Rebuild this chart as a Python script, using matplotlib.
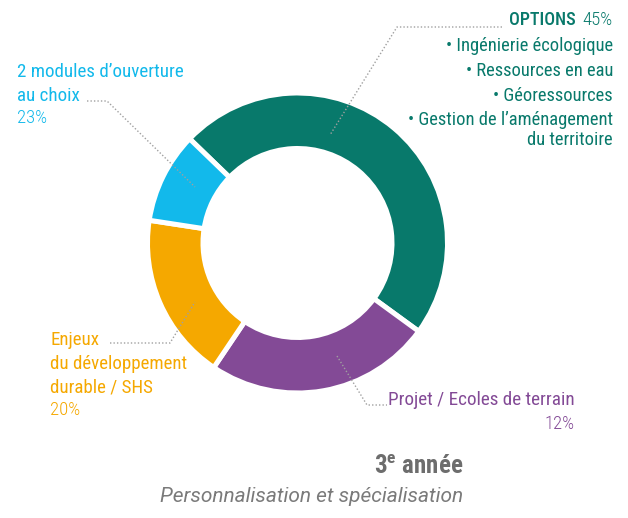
import matplotlib
matplotlib.use("Agg")
import matplotlib.pyplot as plt

# Data
categories = ["OPTIONS", "Projet / Ecoles de terrain",
              "Enjeux du développement durable / SHS", "2 modules d'ouverture au choix"]
slice_values = [47.8, 24.4, 18.0, 9.8]
colors = ["#08796B", "#834A96", "#F5A800", "#12B9EB"]
label_pcts = ["45%", "12%", "20%", "23%"]
options_list = ["• Ingénierie écologique", "• Ressources en eau", "• Géoressources",
                "• Gestion de l\u2019aménagement", "du territoire"]

W, H = 628, 518
fig = plt.figure(figsize=(W / 100, H / 100), dpi=100)
ax = fig.add_axes([0, 0, 1, 1])

cx, cy, R = 297.5, H - 243, 150
ax.pie(slice_values, colors=colors, startangle=136, counterclock=False,
       center=(cx, cy), radius=R, frame=True,
       wedgeprops=dict(width=R * 0.37, edgecolor="white", linewidth=3.6))
ax.set_xlim(0, W)
ax.set_ylim(0, H)
ax.set_aspect("equal")
ax.axis("off")

fams = ["Roboto Condensed", "DejaVu Sans Condensed", "Liberation Sans Narrow", "DejaVu Sans"]
dot = dict(color="#a0a0a0", lw=1.0, ls=(0, (1, 1.5)))


def Y(v):
    return H - v


def T(x, y, s, c, size, ha="left", family=None, **kw):
    ax.text(x, Y(y), s, color=c, fontsize=size, family=family or fams, va="center",
            ha=ha, fontstretch="condensed", **kw)


# Leader lines
ax.plot([87, 107, 195], [Y(101), Y(101), Y(187)], **dot)
ax.plot([502, 397, 330], [Y(27), Y(27), Y(135)], **dot)
ax.plot([110, 170, 195], [Y(343), Y(343), Y(302)], **dot)
ax.plot([337, 367, 387], [Y(356), Y(405), Y(405)], **dot)

# Blue label
T(17, 72, "2 modules d\u2019ouverture", colors[3], 13.7)
T(17, 96, "au choix", colors[3], 13.7)
T(17, 118, label_pcts[3], colors[3], 13.5, fontweight="light")

# Options label
T(613, 20, label_pcts[0], colors[0], 13.5, ha="right", fontweight="light")
T(576, 20, categories[0], colors[0], 13, ha="right", fontweight="medium")
for y, s in zip([46, 71, 96, 120, 140], options_list):
    T(613, y, s, colors[0], 13.3, ha="right")

# Purple label
T(575, 400, categories[1], colors[1], 13.8, ha="right")
T(575, 424, label_pcts[1], colors[1], 13.5, ha="right", fontweight="light")

# Orange label
for y, s in zip([340, 364, 387], ["Enjeux", "du développement", "durable / SHS"]):
    T(50, y, s, colors[2], 13.6)
T(50, 410, label_pcts[2], colors[2], 13.5, fontweight="light")

# Title
T(463, 467, r"3$^{\mathregular{e}}$ année", "#6d6d6d", 18, ha="right", fontweight="bold")
T(463, 497, "Personnalisation et spécialisation", "#7a7a7a", 15.0, ha="right",
  family=["Roboto", "DejaVu Sans"], style="italic")

fig.savefig("out.png", dpi=100)
